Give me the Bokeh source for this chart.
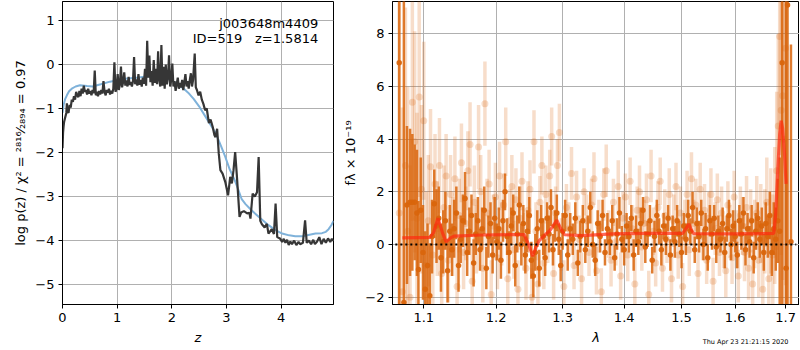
import numpy as np
from bokeh.plotting import figure
from bokeh.layouts import row
from bokeh.models import Range1d, FixedTicker, Label, Title
from bokeh.embed import file_html
from bokeh.resources import INLINE

# ---------------- left panel: redshift PDF ----------------
pz_z = [0.00, 0.01, 0.02, 0.03, 0.05, 0.07, 0.08, 0.09, 0.11, 0.13,
        0.15, 0.17, 0.19, 0.21, 0.23, 0.25, 0.27, 0.29, 0.31, 0.33,
        0.35, 0.37, 0.39, 0.41, 0.43, 0.45, 0.47, 0.49, 0.51, 0.53,
        0.55, 0.57, 0.59, 0.61, 0.63, 0.65, 0.67, 0.69, 0.71, 0.73,
        0.75, 0.77, 0.79, 0.81, 0.83, 0.85, 0.87, 0.89, 0.91, 0.93,
        0.95, 0.97, 0.99, 1.01, 1.03, 1.05, 1.07, 1.09, 1.11, 1.13,
        1.15, 1.17, 1.19, 1.21, 1.23, 1.25, 1.27, 1.29, 1.31, 1.33,
        1.35, 1.37, 1.39, 1.41, 1.43, 1.45, 1.47, 1.49, 1.51, 1.53,
        1.55, 1.57, 1.59, 1.61, 1.63, 1.65, 1.67, 1.69, 1.71, 1.73,
        1.75, 1.77, 1.79, 1.81, 1.83, 1.85, 1.87, 1.89, 1.91, 1.93,
        1.95, 1.97, 1.99, 2.01, 2.03, 2.05, 2.07, 2.09, 2.11, 2.13,
        2.15, 2.17, 2.19, 2.21, 2.23, 2.25, 2.27, 2.29, 2.31, 2.33,
        2.35, 2.37, 2.39, 2.42, 2.44, 2.46, 2.49, 2.52, 2.55, 2.58,
        2.61, 2.64, 2.68, 2.71, 2.75, 2.78, 2.80, 2.83, 2.86, 2.89,
        2.93, 2.98, 3.03, 3.07, 3.10, 3.13, 3.16, 3.19, 3.24, 3.27,
        3.32, 3.38, 3.42, 3.44, 3.48, 3.52, 3.56, 3.59, 3.62, 3.65,
        3.70, 3.74, 3.77, 3.83, 3.87, 3.90, 3.93, 3.98, 4.02, 4.05,
        4.08, 4.11, 4.14, 4.17, 4.20, 4.24, 4.28, 4.32, 4.35, 4.40,
        4.44, 4.47, 4.51, 4.55, 4.59, 4.62, 4.66, 4.70, 4.74, 4.78,
        4.82, 4.86, 4.90, 4.93, 4.96]
pz_logp = [-1.90, -1.55, -1.40, -1.30, -1.20, -1.10, -0.88, -1.05, -1.10, -0.92,
           -0.98, -0.80, -0.85, -0.72, -0.80, -0.62, -0.70, -0.74, -0.60, -0.72,
           -0.55, -0.66, -0.48, -0.62, -0.58, -0.68, -0.55, -0.66, -0.60, -0.70,
           -0.58, -0.65, -0.14, -0.70, -0.62, -0.72, -0.60, -0.68, -0.58, -0.66,
           -0.38, -0.62, -0.70, -0.58, -0.64, -0.55, -0.68, -0.60, -0.66, -0.55,
           0.05, -0.62, -0.55, -0.22, -0.58, -0.45, -0.05, -0.52, -0.40, -0.18,
           -0.48, -0.36, -0.50, -0.28, -0.46, -0.40, -0.50, -0.38, 0.17, -0.45,
           -0.34, -0.48, -0.22, -0.46, -0.35, -0.50, -0.30, -0.44, -0.10, -0.48,
           0.54, -0.30, 0.20, -0.40, -0.15, -0.48, 0.10, -0.42, -0.10, -0.45,
           0.30, -0.35, -0.50, 0.44, -0.48, -0.05, -0.55, 0.00, -0.45, -0.30,
           0.21, -0.50, -0.35, 0.02, -0.50, -0.38, -0.60, -0.45, -0.30, -0.55,
           -0.42, -0.52, -0.35, -0.58, -0.40, -0.22, -0.50, -0.38, -0.55, -0.35,
           -0.20, -0.50, -0.35, 0.25, -0.52, -0.58, -0.70, -0.62, -0.80, -0.90,
           -1.04, -1.00, -1.33, -1.25, -1.42, -1.60, -1.65, -1.46, -2.02, -2.40,
           -2.48, -2.67, -2.97, -2.55, -2.70, -2.40, -1.99, -2.50, -3.46, -3.36,
           -3.33, -3.38, -3.37, -3.50, -2.93, -3.00, -2.90, -2.10, -3.55, -3.63,
           -3.70, -3.62, -3.84, -3.74, -3.85, -3.16, -3.92, -3.95, -4.03, -3.96,
           -4.05, -3.98, -4.10, -4.02, -4.08, -4.00, -4.10, -4.03, -4.08, -4.05,
           -3.54, -4.05, -4.00, -4.08, -3.98, -4.08, -4.02, -3.92, -4.08, -3.96,
           -4.05, -3.95, -4.03, -3.96, -4.00]

prior_z = [0.00, 0.02, 0.05, 0.08, 0.12, 0.17, 0.24, 0.32, 0.45, 0.55,
           0.70, 0.87, 1.00, 1.18, 1.35, 1.50, 1.65, 1.80, 1.95, 2.07,
           2.20, 2.30, 2.40, 2.50, 2.60, 2.70, 2.80, 2.90, 2.98, 3.06,
           3.15, 3.22, 3.28, 3.35, 3.45, 3.59, 3.75, 3.90, 4.02, 4.15,
           4.26, 4.40, 4.50, 4.63, 4.75, 4.82, 4.87, 4.92, 4.96]
prior_logp = [-1.10, -0.92, -0.78, -0.70, -0.61, -0.55, -0.50, -0.47, -0.49, -0.50,
              -0.45, -0.39, -0.36, -0.32, -0.30, -0.28, -0.26, -0.26, -0.33, -0.42,
              -0.53, -0.64, -0.78, -0.95, -1.15, -1.35, -1.55, -1.85, -2.10, -2.38,
              -2.62, -2.85, -3.06, -3.17, -3.30, -3.46, -3.63, -3.76, -3.84, -3.88,
              -3.90, -3.90, -3.87, -3.84, -3.83, -3.80, -3.74, -3.65, -3.55]

left_yticks = [-5, -4, -3, -2, -1, 0, 1]
left_xticks = [0, 1, 2, 3, 4]

# ---------------- right panel: spectrum ----------------
dark_wave = [1.068, 1.074, 1.078, 1.082, 1.085, 1.088, 1.091, 1.093, 1.096, 1.099,
             1.102, 1.105, 1.108, 1.111, 1.114, 1.117, 1.120, 1.123, 1.126, 1.129,
             1.132, 1.135, 1.138, 1.141, 1.144, 1.147, 1.150, 1.153, 1.156, 1.159,
             1.162, 1.165, 1.168, 1.171, 1.174, 1.177, 1.180, 1.183, 1.186, 1.189,
             1.192, 1.195, 1.198, 1.201, 1.204, 1.207, 1.210, 1.213, 1.216, 1.219,
             1.222, 1.225, 1.228, 1.231, 1.234, 1.237, 1.240, 1.243, 1.246, 1.249,
             1.252, 1.255, 1.258, 1.261, 1.264, 1.267, 1.270, 1.273, 1.276, 1.279,
             1.282, 1.285, 1.288, 1.291, 1.294, 1.297, 1.300, 1.304, 1.308, 1.312,
             1.316, 1.320, 1.324, 1.328, 1.332, 1.336, 1.340, 1.344, 1.348, 1.352,
             1.356, 1.360, 1.364, 1.368, 1.372, 1.376, 1.380, 1.384, 1.388, 1.392,
             1.396, 1.400, 1.404, 1.408, 1.412, 1.416, 1.420, 1.424, 1.428, 1.432,
             1.436, 1.440, 1.444, 1.448, 1.452, 1.456, 1.460, 1.464, 1.468, 1.472,
             1.476, 1.480, 1.484, 1.488, 1.492, 1.496, 1.500, 1.504, 1.508, 1.512,
             1.516, 1.520, 1.524, 1.528, 1.532, 1.536, 1.540, 1.544, 1.548, 1.552,
             1.556, 1.560, 1.564, 1.568, 1.572, 1.576, 1.580, 1.584, 1.588, 1.592,
             1.596, 1.600, 1.604, 1.608, 1.612, 1.616, 1.620, 1.624, 1.628, 1.632,
             1.636, 1.640, 1.644, 1.648, 1.652, 1.656, 1.660, 1.664, 1.668, 1.672,
             1.676, 1.680, 1.684, 1.688, 1.693, 1.701, 1.704, 1.711]
dark_flux = [6.9, -2.2, 1.5, 1.6, 1.6, 1.6, 1.2, -0.95, 1.3, -0.3,
             -1.7, -0.8, -1.95, 0.3, 1.55, 0.7, 1.0, -0.5, 0.1, 0.9,
             -1.0, 0.5, -0.2, 0.6, 1.2, -0.8, 0.2, 0.9, 1.75, -0.3,
             0.5, 1.1, -0.7, 0.4, 0.9, -0.2, 0.6, 1.3, -0.9, 0.3,
             0.8, -0.4, 1.0, 0.1, 0.6, -0.6, 0.9, 2.0, 0.3, -0.3,
             0.7, 1.2, -0.8, 0.4, 1.5, 0.0, 0.8, -0.4, 0.5, 1.1,
             -0.6, -1.2, -0.3, 0.6, -0.9, 0.9, 0.3, -0.5, 1.0, 0.4,
             1.4, -0.2, 0.7, 1.2, 0.2, -0.8, 0.5, 1.1, -0.4, 0.6,
             0.2, 1.0, -0.7, 0.3, 0.9, -0.2, 0.5, 1.4, 0.0, -0.6,
             0.8, 0.3, 1.1, -0.3, 0.6, 0.1, 0.9, -0.5, 0.4, 1.2,
             0.2, -0.2, 0.7, 0.3, 1.0, -0.4, 0.5, 0.1, 0.8, 1.3,
             -0.1, 0.4, 0.9, -0.6, 0.3, 1.1, 0.5, -0.2, 0.7, 0.2,
             1.0, -0.4, 0.6, 0.1, 0.9, 0.4, -0.3, 0.7, 0.2, 1.1,
             0.5, 1.4, -0.2, 0.8, 0.3, 1.2, 0.0, 0.6, -0.5, 0.9,
             0.4, 1.0, -0.1, 0.5, 0.2, 0.8, -0.3, 0.6, 1.1, 0.0,
             0.7, 0.3, -0.4, 0.9, 0.4, 1.2, -0.2, 0.6, 0.1, 0.9,
             -0.5, 0.5, 1.0, 0.2, 0.7, -0.3, 0.8, 0.3, 1.1, -0.3,
             0.6, 0.2, 0.9, 0.5, 6.9, -0.9, 9.1, 0.1]
dark_err = [30, 30, 3.0, 2.8, 2.6, 2.2, 2.4, 2.6, 2.0, 1.8,
            2.2, 1.6, 2.0, 1.4, 1.3, 1.4, 1.2, 1.3, 1.2, 1.1,
            1.2, 1.0, 1.0, 1.1, 1.0, 1.0, 0.9, 1.0, 1.0, 0.9,
            0.9, 0.8, 0.9, 0.8, 0.9, 0.8, 0.8, 0.9, 0.8, 0.8,
            0.8, 0.7, 0.8, 0.7, 0.8, 0.7, 0.8, 0.7, 0.7, 0.8,
            0.7, 0.7, 0.8, 0.7, 0.7, 0.8, 0.7, 0.7, 0.8, 0.7,
            0.7, 0.8, 0.7, 0.7, 0.7, 0.6, 0.7, 0.7, 0.6, 0.7,
            0.7, 0.6, 0.6, 0.7, 0.6, 0.6, 0.7, 0.6, 0.6, 0.6,
            0.6, 0.6, 0.5, 0.6, 0.6, 0.5, 0.6, 0.6, 0.5, 0.6,
            0.5, 0.6, 0.6, 0.5, 0.6, 0.5, 0.6, 0.5, 0.6, 0.6,
            0.5, 0.6, 0.5, 0.6, 0.5, 0.6, 0.6, 0.5, 0.6, 0.5,
            0.6, 0.5, 0.6, 0.5, 0.6, 0.6, 0.5, 0.6, 0.5, 0.6,
            0.5, 0.6, 0.5, 0.6, 0.6, 0.5, 0.6, 0.5, 0.6, 0.6,
            0.5, 0.6, 0.5, 0.6, 0.6, 0.5, 0.6, 0.6, 0.5, 0.6,
            0.6, 0.5, 0.6, 0.6, 0.5, 0.6, 0.6, 0.5, 0.6, 0.6,
            0.6, 0.6, 0.5, 0.6, 0.6, 0.6, 0.6, 0.6, 0.6, 0.6,
            0.6, 0.7, 0.6, 0.7, 0.7, 0.7, 0.8, 0.8, 0.9, 0.9,
            1.0, 1.2, 1.6, 2.8, 30, 30, 30, 7.5]

light_wave = [1.068, 1.072, 1.076, 1.079, 1.082, 1.085, 1.088, 1.091, 1.094, 1.097,
              1.100, 1.103, 1.106, 1.109, 1.112, 1.115, 1.118, 1.121, 1.124, 1.127,
              1.130, 1.133, 1.136, 1.139, 1.142, 1.145, 1.148, 1.151, 1.154, 1.157,
              1.160, 1.163, 1.166, 1.169, 1.172, 1.175, 1.178, 1.181, 1.184, 1.187,
              1.190, 1.193, 1.196, 1.199, 1.202, 1.205, 1.208, 1.211, 1.214, 1.217,
              1.220, 1.223, 1.226, 1.229, 1.232, 1.235, 1.238, 1.241, 1.244, 1.247,
              1.250, 1.253, 1.256, 1.259, 1.262, 1.265, 1.268, 1.271, 1.274, 1.277,
              1.280, 1.283, 1.286, 1.289, 1.292, 1.295, 1.298, 1.302, 1.306, 1.310,
              1.314, 1.318, 1.322, 1.326, 1.330, 1.334, 1.338, 1.342, 1.346, 1.350,
              1.354, 1.358, 1.362, 1.366, 1.370, 1.374, 1.378, 1.382, 1.386, 1.390,
              1.394, 1.398, 1.402, 1.406, 1.410, 1.414, 1.418, 1.422, 1.426, 1.430,
              1.434, 1.438, 1.442, 1.446, 1.450, 1.454, 1.458, 1.462, 1.466, 1.470,
              1.474, 1.478, 1.482, 1.486, 1.490, 1.494, 1.498, 1.502, 1.506, 1.510,
              1.514, 1.518, 1.522, 1.526, 1.530, 1.534, 1.538, 1.542, 1.546, 1.550,
              1.554, 1.558, 1.562, 1.566, 1.570, 1.574, 1.578, 1.582, 1.586, 1.590,
              1.594, 1.598, 1.602, 1.606, 1.610, 1.614, 1.618, 1.622, 1.626, 1.630,
              1.634, 1.638, 1.642, 1.646, 1.650, 1.654, 1.658, 1.662, 1.666, 1.670,
              1.674, 1.678, 1.682, 1.685, 1.688, 1.691, 1.694, 1.697, 1.700]
light_flux = [1.2, -1.8, 3.0, 0.5, -2.0, 5.4, 3.9, 1.0, 5.6, 2.1,
              4.7, -0.8, 0.9, 2.95, -0.4, 2.3, 0.6, 3.0, -1.1, 1.4,
              2.6, -0.6, 1.9, 0.3, 2.5, -1.6, 1.1, 3.1, -0.3, 0.8,
              2.8, 3.8, -1.4, 1.6, 0.2, 3.7, 2.0, -0.9, 5.35, 1.2,
              2.3, -1.9, 0.7, 1.8, -0.5, 2.6, 0.4, 1.5, 3.9, -1.3,
              0.9, 2.2, -0.2, 1.7, -1.7, 1.0, 2.4, 0.1, -0.9, 1.3,
              2.1, -2.0, 3.9, 0.5, -1.5, 1.6, 3.0, -0.7, 1.9, 0.3,
              2.6, 4.1, -1.1, 1.2, 3.0, 4.25, 0.0, -1.6, 1.4, 0.6,
              2.7, -0.8, 1.8, 0.2, -1.3, 2.0, 0.9, -0.3, 1.5, 2.5,
              -1.0, 0.7, -1.8, 1.9, 2.8, 0.4, -0.6, 1.6, 0.1, 2.2,
              -1.2, 1.0, 1.8, -0.4, 2.4, 0.6, -1.5, 1.3, 2.0, -0.1,
              0.8, 1.7, -1.9, 2.6, 0.5, -0.7, 1.4, 2.4, -0.9, 1.1,
              0.2, 1.9, -1.3, 0.9, 2.2, -0.4, 1.2, -1.6, 0.7, 1.9,
              -0.2, 2.5, 0.8, 1.5, -1.1, 2.1, 0.3, 1.3, -0.6, 1.0,
              1.9, -1.4, 0.6, 1.7, -0.3, 1.2, 0.1, -1.0, 1.5, 0.5,
              -0.5, 1.8, 0.2, -1.2, 1.1, 0.7, -0.3, 1.4, -0.9, 0.9,
              -1.5, 0.4, 1.2, -0.6, 0.8, -1.7, 0.5, 1.6, -1.3, 0.9,
              -0.4, 1.1, 2.8, 4.5, 7.9, 5.1, 5.65, 4.0, 7.45]
light_err = [8, 7, 6, 5.5, 5, 4.5, 4.2, 4, 3.8, 3.2,
             3.0, 2.8, 2.5, 2.2, 2.0, 1.9, 1.8, 1.8, 1.7, 1.6,
             1.6, 1.6, 1.5, 1.5, 1.6, 1.5, 1.4, 1.5, 1.4, 1.4,
             1.5, 1.6, 1.4, 1.4, 1.3, 1.6, 1.4, 1.3, 1.6, 1.3,
             1.3, 1.3, 1.2, 1.3, 1.2, 1.3, 1.2, 1.2, 1.3, 1.2,
             1.2, 1.2, 1.1, 1.2, 1.1, 1.2, 1.1, 1.1, 1.2, 1.1,
             1.1, 1.1, 1.2, 1.1, 1.1, 1.0, 1.1, 1.0, 1.1, 1.0,
             1.0, 1.1, 1.0, 1.0, 1.0, 1.1, 1.0, 1.0, 0.9, 1.0,
             1.0, 0.9, 1.0, 0.9, 1.0, 0.9, 1.0, 0.9, 1.0, 1.0,
             0.9, 1.0, 0.9, 1.0, 1.0, 0.9, 1.0, 0.9, 0.9, 1.0,
             0.9, 1.0, 0.9, 1.0, 0.9, 0.9, 1.0, 0.9, 1.0, 0.9,
             0.9, 1.0, 0.9, 1.0, 0.9, 0.9, 1.0, 0.9, 0.9, 1.0,
             0.9, 1.0, 0.9, 1.0, 0.9, 0.9, 1.0, 0.9, 1.0, 0.9,
             1.0, 1.0, 0.9, 1.0, 0.9, 1.0, 0.9, 1.0, 0.9, 1.0,
             1.0, 0.9, 1.0, 1.0, 0.9, 1.0, 1.0, 1.0, 0.9, 1.0,
             1.0, 1.0, 1.1, 1.0, 1.1, 1.1, 1.1, 1.2, 1.2, 1.2,
             1.3, 1.3, 1.4, 1.4, 1.5, 1.5, 1.6, 1.7, 1.8, 2.0,
             2.3, 2.6, 3.0, 3.5, 4.5, 5.5, 7, 8, 9]

model_wave = [1.072, 1.108, 1.113, 1.119, 1.125, 1.130, 1.136, 1.141, 1.180, 1.241,
              1.248, 1.254, 1.259, 1.264, 1.272, 1.280, 1.291, 1.297, 1.303, 1.331,
              1.380, 1.440, 1.502, 1.508, 1.513, 1.518, 1.522, 1.600, 1.676, 1.680,
              1.684, 1.688, 1.691, 1.694, 1.698, 1.701]
model_flux = [0.25, 0.27, 0.45, 1.0, 0.45, 0.1, 0.25, 0.32, 0.36, 0.38,
              0.0, -0.45, -0.1, 0.15, 0.35, 0.52, 0.92, 0.6, 0.37, 0.34,
              0.4, 0.42, 0.42, 0.6, 0.78, 0.55, 0.41, 0.4, 0.42, 1.2,
              2.8, 4.2, 4.7, 4.4, 3.4, 2.3]

zero_wave = [1.063, 1.722]
zero_flux = [0.0, 0.0]

right_xticks = [1.1, 1.2, 1.3, 1.4, 1.5, 1.6, 1.7]
right_yticks = [-2, 0, 2, 4, 6, 8]

FONT = "DejaVu Sans"
ORANGE = "#d9650c"
H = 349


def style(p):
    p.background_fill_color = "white"
    p.border_fill_color = "white"
    p.outline_line_color = "black"
    p.outline_line_width = 1
    for ax in (p.xaxis[0], p.yaxis[0]):
        ax.axis_line_color = "black"
        ax.major_tick_line_color = "black"
        ax.major_tick_out = 4
        ax.major_tick_in = 0
        ax.minor_tick_line_color = None
        ax.major_label_text_font = FONT
        ax.major_label_text_font_size = "13px"
        ax.major_label_text_color = "black"
        ax.axis_label_text_font = FONT
        ax.axis_label_text_font_size = "13px"
        ax.axis_label_text_color = "black"
        ax.major_label_standoff = 4
        ax.axis_label_standoff = 5
    for g in (p.xgrid[0], p.ygrid[0]):
        g.grid_line_color = "#b0b0b0"
        g.grid_line_width = 1


def minus(v):
    return ("%g" % v).replace("-", "\u2212")


# ---- left figure ----
p1 = figure(width=340, height=H, output_backend="svg", toolbar_location=None,
            x_range=Range1d(0, 4.96), y_range=Range1d(-5.45, 1.43),
            min_border_left=62, min_border_right=7, min_border_top=1, min_border_bottom=45)
style(p1)
p1.xaxis.ticker = FixedTicker(ticks=left_xticks)
p1.yaxis.ticker = FixedTicker(ticks=left_yticks)
p1.xgrid.ticker = p1.xaxis.ticker
p1.ygrid.ticker = p1.yaxis.ticker
p1.yaxis.major_label_overrides = {t: minus(t) for t in left_yticks}
p1.yaxis.axis_label_standoff = 4
p1.xaxis.axis_label = "z"
p1.xaxis.axis_label_text_font_style = "italic"
p1.yaxis.axis_label = "log p(z) / \u03c7\u00b2 = \u00b2\u2078\u00b9\u2076\u2044\u2082\u2088\u2089\u2084 = 0.97"
p1.yaxis.axis_label_text_font_style = "normal"

p1.line(prior_z, prior_logp, line_color="#7fb2da", line_width=2)
p1.line(pz_z, pz_logp, line_color="#363636", line_width=2.2)

p1.add_layout(Label(x=4.68, y=0.92, text="j003648m4409", text_align="right",
                    text_baseline="alphabetic", text_font=FONT, text_font_size="13px",
                    text_color="black"))
p1.add_layout(Label(x=3.29, y=0.59, text="ID=519", text_align="right",
                    text_baseline="alphabetic", text_font=FONT, text_font_size="13px",
                    text_color="black"))
p1.add_layout(Label(x=4.68, y=0.59, text="z=1.5814", text_align="right",
                    text_baseline="alphabetic", text_font=FONT, text_font_size="13px",
                    text_color="black"))

# ---- right figure ----
p2 = figure(width=459, height=H, output_backend="svg", toolbar_location=None,
            x_axis_type="log",
            x_range=Range1d(1.0594, 1.7287), y_range=Range1d(-2.28, 9.23),
            min_border_left=51, min_border_right=0, min_border_top=1, min_border_bottom=45)
style(p2)
p2.xaxis.ticker = FixedTicker(ticks=right_xticks)
p2.yaxis.ticker = FixedTicker(ticks=right_yticks)
p2.xgrid.ticker = p2.xaxis.ticker
p2.ygrid.ticker = p2.yaxis.ticker
p2.xaxis.major_label_overrides = {t: ("%.1f" % t) for t in right_xticks}
p2.yaxis.major_label_overrides = {t: minus(t) for t in right_yticks}
p2.yaxis.axis_label_standoff = 4
p2.xaxis.axis_label = "\u03bb"
p2.xaxis.axis_label_text_font_style = "italic"
p2.yaxis.axis_label = "f\u03bb \u00d7 10\u207b\u00b9\u2079"
p2.yaxis.axis_label_text_font_style = "normal"

lw = np.array(light_wave); lf = np.array(light_flux); le = np.array(light_err)
dw = np.array(dark_wave); df = np.array(dark_flux); de = np.array(dark_err)

p2.segment(lw, lf - le, lw, lf + le, line_color=ORANGE, line_alpha=0.22, line_width=3.5)
p2.scatter(lw, lf, size=7, fill_color=ORANGE, fill_alpha=0.22, line_color=None)
p2.segment(dw, df - de, dw, df + de, line_color=ORANGE, line_alpha=0.85, line_width=2.5)
p2.scatter(dw, df, size=5.5, fill_color=ORANGE, fill_alpha=0.95, line_color=None)
p2.line(model_wave, model_flux, line_color="#ff2a10", line_alpha=0.7, line_width=3.2)
p2.line(zero_wave, zero_flux, line_color="black", line_width=2, line_dash="2 3")

p2.add_layout(Title(text="Thu Apr 23 21:21:15 2020", align="right", offset=11,
                    vertical_align="top", standoff=-20, text_font=FONT,
                    text_font_size="6.5px", text_font_style="normal",
                    text_color="black"), "below")

layout = row(p1, p2)
open("out.html", "w").write(file_html(layout, INLINE))
